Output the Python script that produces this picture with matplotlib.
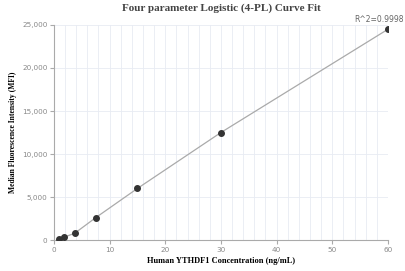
import matplotlib.pyplot as plt
from matplotlib.ticker import MultipleLocator, FuncFormatter

conc = [0.94, 1.88, 3.75, 7.5, 15, 30, 60]
mfi = [150, 350, 800, 2600, 6000, 12500, 24500]
r2_label = "R^2=0.9998"

fig = plt.figure(figsize=(4.05, 2.71), dpi=100)
ax = fig.add_axes([0.133, 0.114, 0.825, 0.794])

ax.plot(conc, mfi, color="#aaaaaa", linewidth=0.9, zorder=2)
ax.scatter(conc, mfi, s=16, color="#333333", zorder=3)

ax.set_xlim(0, 60)
ax.set_ylim(0, 25000)
ax.xaxis.set_major_locator(MultipleLocator(10))
ax.xaxis.set_minor_locator(MultipleLocator(2))
ax.yaxis.set_major_locator(MultipleLocator(5000))
ax.yaxis.set_major_formatter(FuncFormatter(lambda v, p: f"{int(v):,}"))

ax.grid(which="both", axis="x", color="#e8ebf3", linewidth=0.6)
ax.grid(which="major", axis="y", color="#e8ebf3", linewidth=0.6)
ax.set_axisbelow(True)

for s in ["top", "right"]:
    ax.spines[s].set_visible(False)
for s in ["left", "bottom"]:
    ax.spines[s].set_color("#aaaaaa")
    ax.spines[s].set_linewidth(0.8)

ax.tick_params(which="major", length=3, color="#aaaaaa", labelsize=5.2, labelcolor="#888888")
ax.tick_params(which="minor", length=0)
ax.tick_params(axis="x", pad=2)
ax.tick_params(axis="y", pad=1.5)

ax.text(0.998, 0.912, r2_label, transform=fig.transFigure, fontsize=5.5,
        color="#666666", ha="right", va="bottom")

ax.set_title("Four parameter Logistic (4-PL) Curve Fit", family="Liberation Serif",
             fontweight="bold", fontsize=8, color="#444444", pad=10)
ax.set_xlabel("Human YTHDF1 Concentration (ng/mL)", family="Liberation Serif",
              fontweight="bold", fontsize=6, labelpad=3)
ax.set_ylabel("Median Fluorescence Intensity (MFI)", family="Liberation Serif",
              fontweight="bold", fontsize=5.5)
ax.yaxis.set_label_coords(-0.11, 0.5)

fig.savefig("out.png", dpi=100)
